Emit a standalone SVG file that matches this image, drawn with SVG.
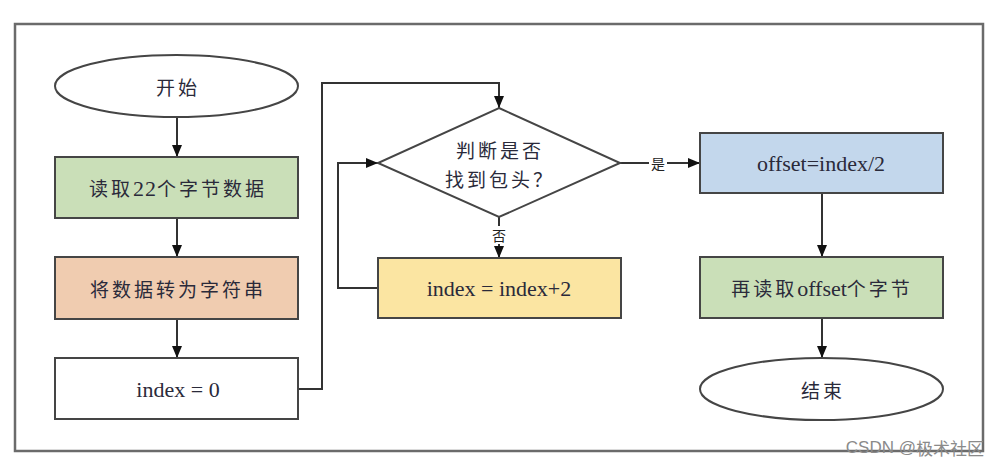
<svg xmlns="http://www.w3.org/2000/svg" width="1000" height="466" viewBox="0 0 1000 466">
<style>
.frame{fill:none;stroke:#6b6b6b;stroke-width:2.5}
.box{stroke:#454545;stroke-width:2}
.ln{fill:none;stroke:#333;stroke-width:2}
.cn{font-family:"Noto Sans CJK SC","Noto Sans",sans-serif;font-size:19px;letter-spacing:3px;fill:#2a2a3a;text-anchor:middle;dominant-baseline:central}
.lt{font-family:"Liberation Serif",serif;font-size:22px;fill:#2a2a3a;text-anchor:middle;dominant-baseline:central}
.lab{font-family:"Noto Sans CJK SC",sans-serif;font-size:14px;fill:#222;text-anchor:middle;dominant-baseline:central}
</style>
<defs>
<marker id="ah" viewBox="0 0 12 10" refX="12" refY="5" markerWidth="12" markerHeight="10" markerUnits="userSpaceOnUse" orient="auto">
<path d="M0,0 L12,5 L0,10 Z" fill="#111"/>
</marker>
</defs>
<rect width="1000" height="466" fill="#fff"/>
<rect class="frame" x="15" y="24" width="968" height="427"/>
<g id="connectors">
<line class="ln" x1="177" y1="117" x2="177" y2="157" marker-end="url(#ah)"/>
<line class="ln" x1="177" y1="218" x2="177" y2="257" marker-end="url(#ah)"/>
<line class="ln" x1="177" y1="319" x2="177" y2="358" marker-end="url(#ah)"/>
<polyline class="ln" points="298,389 322,389 322,83 499,83 499,108" marker-end="url(#ah)"/>
<line class="ln" x1="499" y1="217" x2="499" y2="258" marker-end="url(#ah)"/>
<polyline class="ln" points="378,288 338,288 338,163 378,163" marker-end="url(#ah)"/>
<line class="ln" x1="620" y1="163" x2="700" y2="163" marker-end="url(#ah)"/>
<line class="ln" x1="822" y1="193" x2="822" y2="257" marker-end="url(#ah)"/>
<line class="ln" x1="822" y1="318" x2="822" y2="358" marker-end="url(#ah)"/>
<rect x="490" y="226" width="18" height="18" fill="#fff"/>
<text class="lab" x="499" y="235">否</text>
<rect x="649" y="155" width="18" height="16" fill="#fff"/>
<text class="lab" x="658" y="163">是</text>
</g>
<g id="start">
<ellipse class="box" cx="176.5" cy="86" rx="121.5" ry="31" fill="#fff"/>
<text class="cn" x="178" y="86">开始</text>
</g>
<g id="read22">
<rect class="box" x="55" y="157" width="243" height="61" fill="#cadfb8"/>
<text class="cn" x="178" y="187.5">读取<tspan font-family="Liberation Serif" font-size="22px" letter-spacing="1px">22</tspan>个字节数据</text>
</g>
<g id="tostring">
<rect class="box" x="55" y="257" width="243" height="62" fill="#f0ccb0"/>
<text class="cn" x="178" y="288">将数据转为字符串</text>
</g>
<g id="init">
<rect class="box" x="55" y="358" width="243" height="61" fill="#fff"/>
<text class="lt" x="178" y="389">index = 0</text>
</g>
<g id="decision">
<polygon class="box" points="499,108 620,163 499,217 378,163" fill="#fff"/>
<text class="cn" x="500" y="149">判断是否</text>
<text class="cn" x="500" y="178">找到包头？</text>
</g>
<g id="increment">
<rect class="box" x="378" y="258" width="243" height="60" fill="#fbe5a2"/>
<text class="lt" x="499" y="288">index = index+2</text>
</g>
<g id="offset">
<rect class="box" x="700" y="133" width="243" height="60" fill="#c3d7ec"/>
<text class="lt" x="821" y="163">offset=index/2</text>
</g>
<g id="readoffset">
<rect class="box" x="700" y="257" width="243" height="61" fill="#cadfb8"/>
<text class="cn" x="822" y="287.5">再读取<tspan font-family="Liberation Serif" font-size="22px" letter-spacing="0px">offset</tspan>个字节</text>
</g>
<g id="end">
<ellipse class="box" cx="821.5" cy="389" rx="121.5" ry="31" fill="#fff"/>
<text class="cn" x="823" y="389">结束</text>
</g>
<text x="984" y="447" font-family="Liberation Sans,sans-serif" font-size="17" fill="#8a8a8a" text-anchor="end" dominant-baseline="central">CSDN @<tspan font-family="Noto Sans CJK SC,sans-serif">极术社区</tspan></text>
</svg>
